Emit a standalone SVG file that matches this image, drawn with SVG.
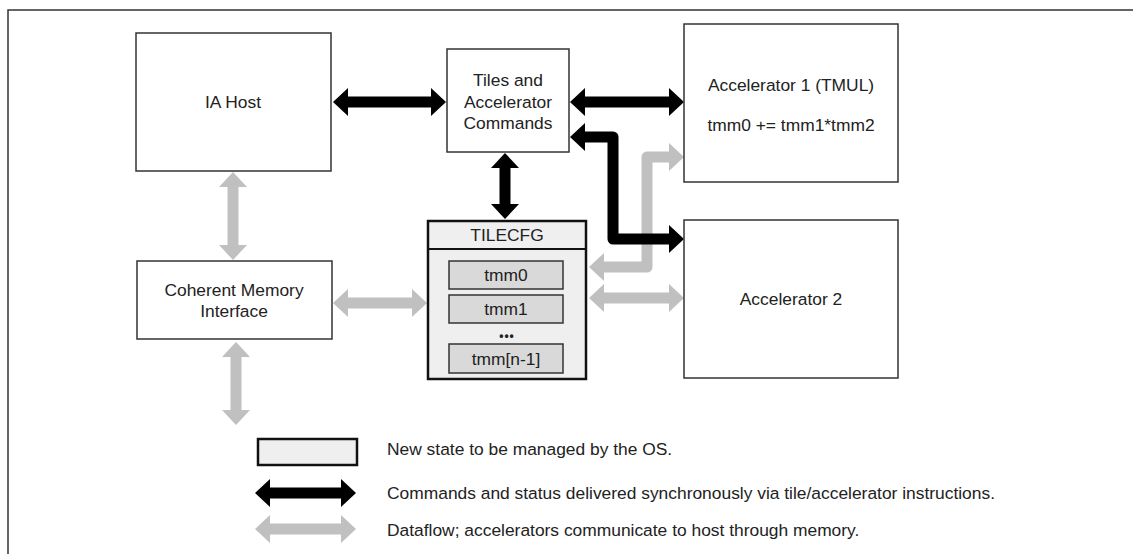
<svg xmlns="http://www.w3.org/2000/svg" width="1133" height="554" viewBox="0 0 1133 554">
<style>
text{font-family:"Liberation Sans",Arial,sans-serif;font-size:17.4px;fill:#222;text-anchor:middle}
.lg{text-anchor:start}
.box{fill:#fff;stroke:#333;stroke-width:1.5}
.state{fill:#efefef;stroke:#111;stroke-width:2.5}
.reg{fill:#d9d9d9;stroke:#333;stroke-width:1.5}
.blk{fill:none;stroke:#000;stroke-width:11;stroke-linejoin:round;marker-start:url(#hb);marker-end:url(#hb)}
.gry{fill:none;stroke:#c0c0c0;stroke-width:11;stroke-linejoin:round;marker-start:url(#hg);marker-end:url(#hg)}
</style>
<defs>
<marker id="hb" markerUnits="userSpaceOnUse" markerWidth="16" markerHeight="28" refX="7" refY="14" orient="auto-start-reverse"><path d="M0,0 L15,14 L0,28 Z" fill="#000"/></marker>
<marker id="hg" markerUnits="userSpaceOnUse" markerWidth="16" markerHeight="28" refX="7" refY="14" orient="auto-start-reverse"><path d="M0,0 L15,14 L0,28 Z" fill="#c0c0c0"/></marker>
</defs>
<rect width="1133" height="554" fill="#fff"/>
<path d="M8,560 V10 H1140" fill="none" stroke="#333" stroke-width="1.5"/>

<g id="connectors">
<path class="gry" d="M233,180 V252"/>
<path class="gry" d="M341,303 H419"/>
<path class="gry" d="M236,350 V417"/>
<path class="gry" d="M597,267 H647 V157 H676"/>
<path class="gry" d="M597,298 H676"/>
<path class="blk" d="M341,102 H438"/>
<path class="blk" d="M578,102 H676"/>
<path class="blk" d="M505,161 V211"/>
<path class="blk" d="M578,137 H613 V239 H676"/>
</g>

<g id="ia-host">
<rect class="box" x="136" y="33" width="195" height="138"/>
<text x="233" y="108">IA Host</text>
</g>
<g id="tiles-commands">
<rect class="box" x="447" y="49" width="122" height="103"/>
<text x="508" y="86">Tiles and</text>
<text x="508" y="108">Accelerator</text>
<text x="508" y="129">Commands</text>
</g>
<g id="accelerator-1">
<rect class="box" x="684" y="24" width="214" height="158"/>
<text x="791" y="91">Accelerator 1 (TMUL)</text>
<text x="791" y="131">tmm0 += tmm1*tmm2</text>
</g>
<g id="accelerator-2">
<rect class="box" x="684" y="220" width="214" height="158"/>
<text x="791" y="305">Accelerator 2</text>
</g>
<g id="coherent-memory">
<rect class="box" x="137" y="261" width="195" height="78"/>
<text x="234" y="296">Coherent Memory</text>
<text x="234" y="317">Interface</text>
</g>
<g id="tilecfg">
<rect class="state" x="428" y="221" width="158" height="158"/>
<line x1="428" y1="249" x2="586" y2="249" stroke="#111" stroke-width="2"/>
<text x="507" y="241">TILECFG</text>
<rect class="reg" x="449" y="261" width="114" height="28"/>
<text x="506" y="281">tmm0</text>
<rect class="reg" x="449" y="295" width="114" height="28"/>
<text x="506" y="315">tmm1</text>
<text x="507" y="340" style="font-size:12px;letter-spacing:1px;font-weight:bold">•••</text>
<rect class="reg" x="449" y="344" width="114" height="29"/>
<text x="506" y="365">tmm[n-1]</text>
</g>

<g id="legend">
<rect class="state" x="258" y="439" width="99" height="26"/>
<path class="blk" d="M263,493 H348"/>
<path class="gry" d="M263,529 H348"/>
<text class="lg" x="387" y="455">New state to be managed by the OS.</text>
<text class="lg" x="387" y="499">Commands and status delivered synchronously via tile/accelerator instructions.</text>
<text class="lg" x="387" y="536">Dataflow; accelerators communicate to host through memory.</text>
</g>
</svg>
